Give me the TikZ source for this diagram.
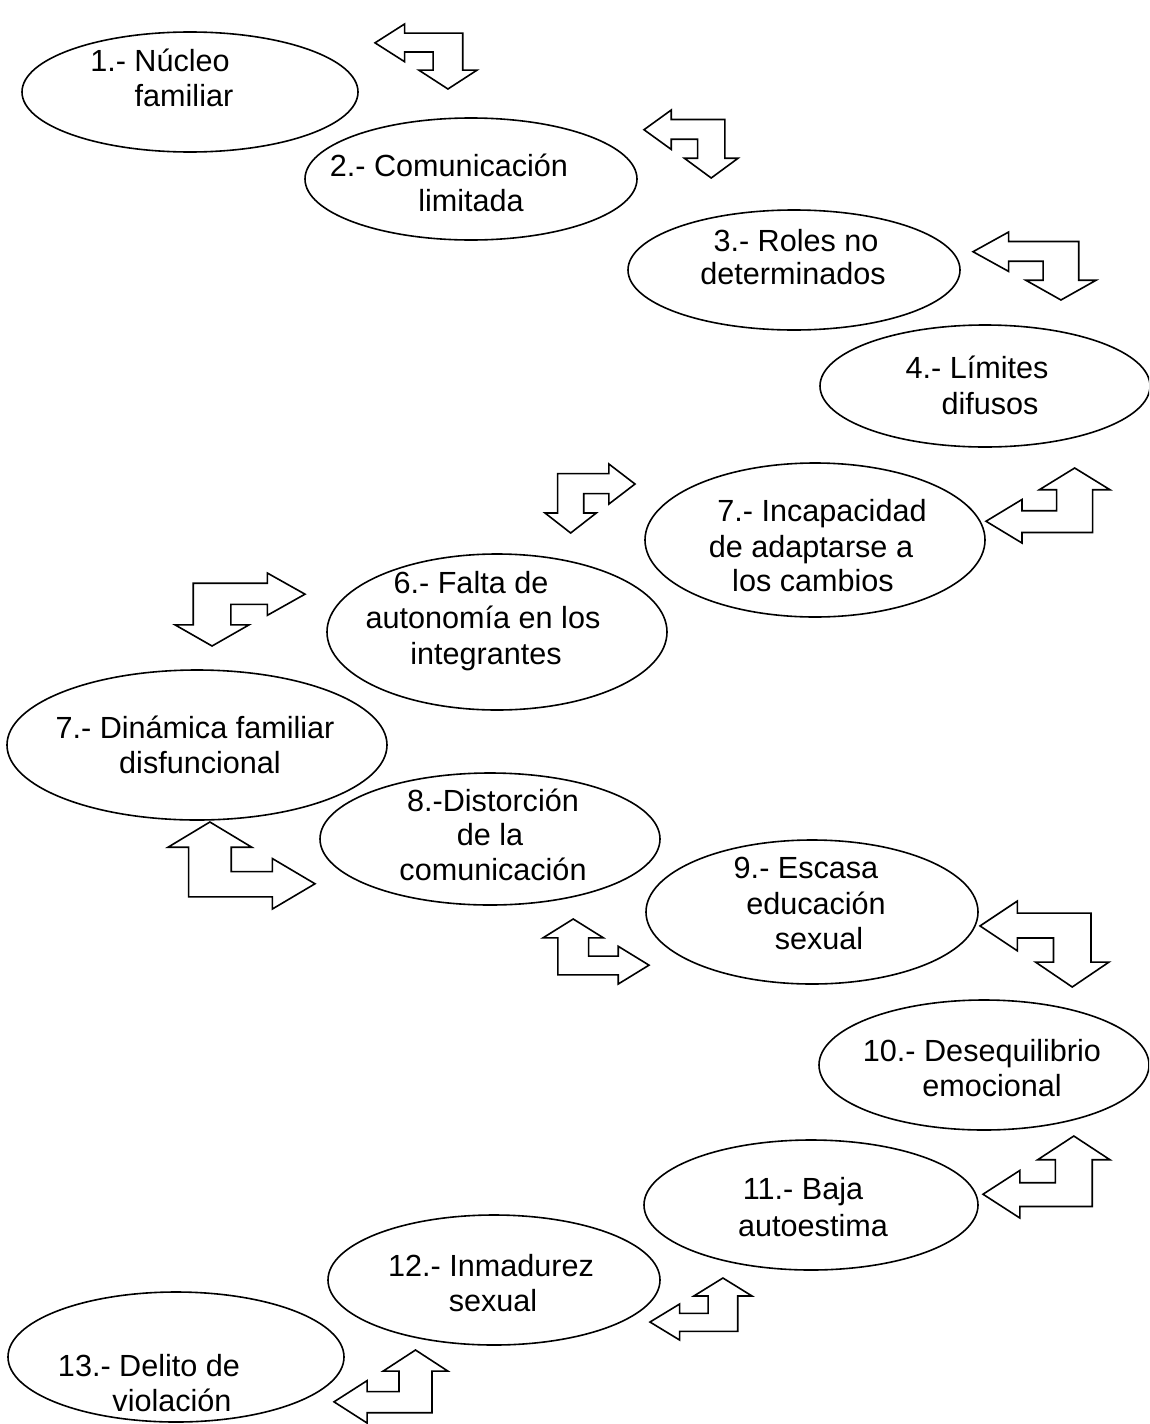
\documentclass[tikz,border=0pt]{standalone}
\usepackage{fontspec}
\setmainfont{Liberation Sans}
\usetikzlibrary{shapes.geometric}
\newcommand{\bentarrow}[5]{%
  \begin{scope}[shift={(#1,#2)}, xscale=#3, yscale=#4]
    \draw[arrowline] (0,0.29) -- (0.29,0) -- (0.29,0.14) -- (0.86,0.14) -- (0.86,0.71) -- (1,0.71) -- (0.715,1) -- (0.43,0.71) -- (0.57,0.71) -- (0.57,0.43) -- (0.29,0.43) -- (0.29,0.58) -- cycle;
    \coordinate (#5) at (0.5,0.5);
  \end{scope}}
\begin{document}
\begin{tikzpicture}[x=1pt,y=-1pt,
  ell/.style={draw, line width=1.6pt, ellipse, inner sep=0pt},
  lbl/.style={anchor=base, inner sep=0pt, font=\fontsize{30.6}{35}\selectfont},
  arrowline/.style={line width=1.6pt, line join=miter}
]
\clip (0,0) rectangle (1149,1424);
\useasboundingbox (0,0) rectangle (1149,1424);
\fill[white] (0,0) rectangle (1149,1424);

% ellipses
\node[ell, minimum width=336, minimum height=120] (e1) at (190,92) {};
\node[ell, minimum width=332, minimum height=122] (e2) at (471,179) {};
\node[ell, minimum width=332, minimum height=120] (e3) at (794,270) {};
\node[ell, minimum width=330, minimum height=122] (e4) at (985,386) {};
\node[ell, minimum width=340, minimum height=154] (e5) at (815,540) {};
\node[ell, minimum width=340, minimum height=156] (e6) at (497,632) {};
\node[ell, minimum width=380, minimum height=150] (e7) at (197,745) {};
\node[ell, minimum width=340, minimum height=132] (e8) at (490,839) {};
\node[ell, minimum width=332, minimum height=144] (e9) at (812,912) {};
\node[ell, minimum width=330, minimum height=130] (e10) at (984,1065) {};
\node[ell, minimum width=334, minimum height=130] (e11) at (811,1205) {};
\node[ell, minimum width=332, minimum height=130] (e12) at (494,1280) {};
\node[ell, minimum width=336, minimum height=130] (e13) at (176,1357) {};

% labels
\node[lbl] (t1a) at (160,71) {1.- Núcleo};
\node[lbl] (t1b) at (184,106) {familiar};
\node[lbl] (t2a) at (449,176) {2.- Comunicación};
\node[lbl] (t2b) at (471,211) {limitada};
\node[lbl] (t3a) at (796,251) {3.- Roles no};
\node[lbl] (t3b) at (793,284) {determinados};
\node[lbl] (t4a) at (977,378) {4.- Límites};
\node[lbl] (t4b) at (990,414) {difusos};
\node[lbl] (t5a) at (822,521) {7.- Incapacidad};
\node[lbl] (t5b) at (811,557) {de adaptarse a};
\node[lbl] (t5c) at (813,591) {los cambios};
\node[lbl] (t6a) at (471,593) {6.- Falta de};
\node[lbl] (t6b) at (483,628) {autonomía en los};
\node[lbl] (t6c) at (486,664) {integrantes};
\node[lbl] (t7a) at (195,738) {7.- Dinámica familiar};
\node[lbl] (t7b) at (200,773) {disfuncional};
\node[lbl] (t8a) at (493,811) {8.-Distorción};
\node[lbl] (t8b) at (490,845) {de la};
\node[lbl] (t8c) at (493,880) {comunicación};
\node[lbl] (t9a) at (806,878) {9.- Escasa};
\node[lbl] (t9b) at (816,914) {educación};
\node[lbl] (t9c) at (819,949) {sexual};
\node[lbl] (t10a) at (982,1061) {10.- Desequilibrio};
\node[lbl] (t10b) at (992,1096) {emocional};
\node[lbl] (t11a) at (803,1199) {11.- Baja};
\node[lbl] (t11b) at (813,1236) {autoestima};
\node[lbl] (t12a) at (491,1276) {12.- Inmadurez};
\node[lbl] (t12b) at (493,1311) {sexual};
\node[lbl] (t13a) at (149,1376) {13.- Delito de};
\node[lbl] (t13b) at (172,1411) {violación};

% bent double arrows (left+down shape, mirrored by negative scale)
\bentarrow{375}{24}{102}{65}{a1}
\bentarrow{644}{110}{94}{68}{a2}
\bentarrow{973}{232}{123}{68}{a3}
\bentarrow{986}{543}{124}{-75}{a4}
\bentarrow{635}{464}{-90}{69}{a5}
\bentarrow{305}{573}{-130}{73}{a6}
\bentarrow{315}{909}{-147}{-87}{a7}
\bentarrow{649}{984}{-106}{-65}{a8}
\bentarrow{980}{901}{129}{86}{a9}
\bentarrow{983}{1218}{127}{-82}{a10}
\bentarrow{650}{1340}{102}{-62}{a11}
\bentarrow{334}{1423}{114}{-73}{a12}
\end{tikzpicture}
\end{document}
